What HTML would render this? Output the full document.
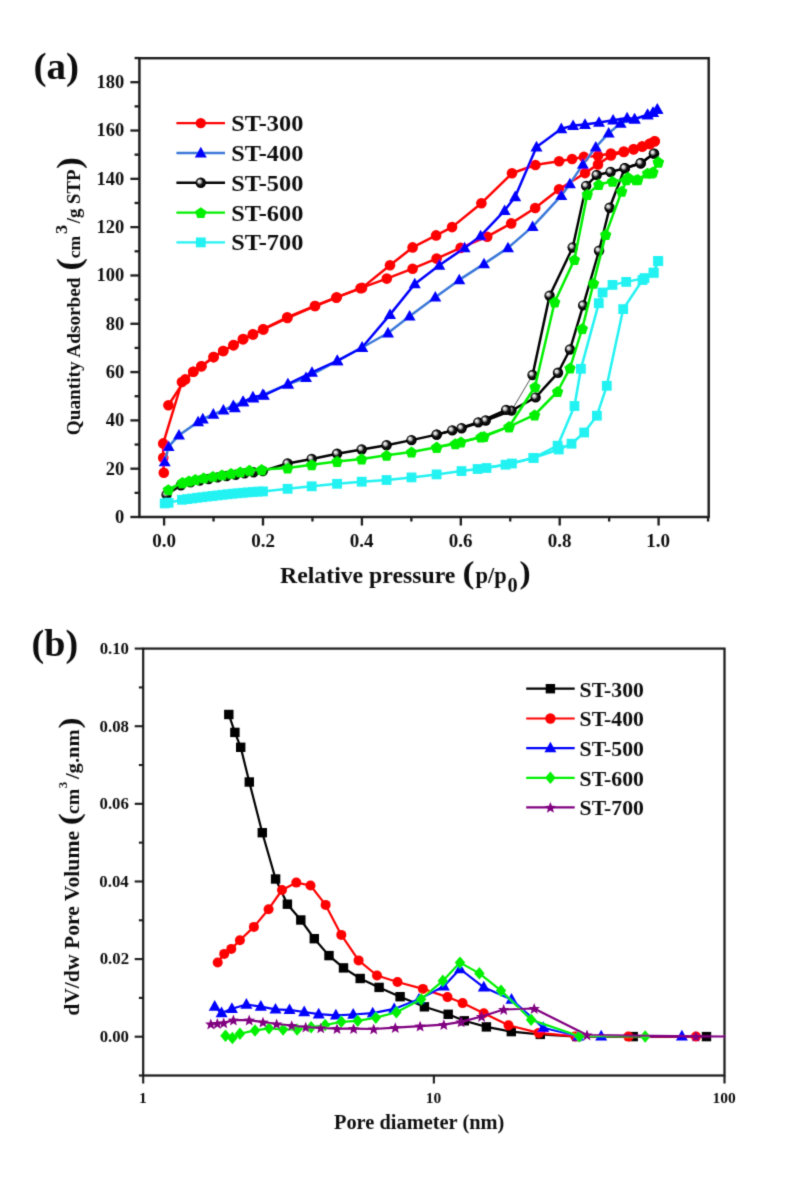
<!DOCTYPE html>
<html><head><meta charset="utf-8"><style>
html,body{margin:0;padding:0;background:#fff;}
svg{display:block;}

</style></head><body>
<svg width="788" height="1181" viewBox="0 0 788 1181" font-family="Liberation Serif" font-weight="bold">
<defs><radialGradient id="bg" cx="0.5" cy="0.5" r="0.5" fx="0.3" fy="0.32"><stop offset="0" stop-color="#ffffff"/><stop offset="0.28" stop-color="#c8c8c8"/><stop offset="0.55" stop-color="#111"/><stop offset="1" stop-color="#000"/></radialGradient><filter id="sb" filterUnits="userSpaceOnUse" x="0" y="0" width="788" height="1181"><feConvolveMatrix order="3" kernelMatrix="0.01917 0.10012 0.01917 0.10012 0.52283 0.10012 0.01917 0.10012 0.01917" edgeMode="duplicate" preserveAlpha="false"/></filter></defs>
<rect width="788" height="1181" fill="#fff"/>
<g filter="url(#sb)">
<rect x="139.4" y="58.2" width="569.3" height="458.8" fill="none" stroke="#1a1a1a" stroke-width="2.4"/>
<line x1="130.4" y1="517.00" x2="139.4" y2="517.00" stroke="#1a1a1a" stroke-width="2.3"/>
<text x="115.05" y="522.90" font-size="18.5" fill="#111">0</text>
<line x1="134.6" y1="492.85" x2="139.4" y2="492.85" stroke="#1a1a1a" stroke-width="2.3"/>
<line x1="130.4" y1="468.69" x2="139.4" y2="468.69" stroke="#1a1a1a" stroke-width="2.3"/>
<text x="105.80" y="474.59" font-size="18.5" fill="#111">20</text>
<line x1="134.6" y1="444.53" x2="139.4" y2="444.53" stroke="#1a1a1a" stroke-width="2.3"/>
<line x1="130.4" y1="420.38" x2="139.4" y2="420.38" stroke="#1a1a1a" stroke-width="2.3"/>
<text x="105.80" y="426.28" font-size="18.5" fill="#111">40</text>
<line x1="134.6" y1="396.23" x2="139.4" y2="396.23" stroke="#1a1a1a" stroke-width="2.3"/>
<line x1="130.4" y1="372.07" x2="139.4" y2="372.07" stroke="#1a1a1a" stroke-width="2.3"/>
<text x="105.80" y="377.97" font-size="18.5" fill="#111">60</text>
<line x1="134.6" y1="347.91" x2="139.4" y2="347.91" stroke="#1a1a1a" stroke-width="2.3"/>
<line x1="130.4" y1="323.76" x2="139.4" y2="323.76" stroke="#1a1a1a" stroke-width="2.3"/>
<text x="105.80" y="329.66" font-size="18.5" fill="#111">80</text>
<line x1="134.6" y1="299.61" x2="139.4" y2="299.61" stroke="#1a1a1a" stroke-width="2.3"/>
<line x1="130.4" y1="275.45" x2="139.4" y2="275.45" stroke="#1a1a1a" stroke-width="2.3"/>
<text x="96.55" y="281.35" font-size="18.5" fill="#111">100</text>
<line x1="134.6" y1="251.29" x2="139.4" y2="251.29" stroke="#1a1a1a" stroke-width="2.3"/>
<line x1="130.4" y1="227.14" x2="139.4" y2="227.14" stroke="#1a1a1a" stroke-width="2.3"/>
<text x="96.55" y="233.04" font-size="18.5" fill="#111">120</text>
<line x1="134.6" y1="202.98" x2="139.4" y2="202.98" stroke="#1a1a1a" stroke-width="2.3"/>
<line x1="130.4" y1="178.83" x2="139.4" y2="178.83" stroke="#1a1a1a" stroke-width="2.3"/>
<text x="96.55" y="184.73" font-size="18.5" fill="#111">140</text>
<line x1="134.6" y1="154.67" x2="139.4" y2="154.67" stroke="#1a1a1a" stroke-width="2.3"/>
<line x1="130.4" y1="130.52" x2="139.4" y2="130.52" stroke="#1a1a1a" stroke-width="2.3"/>
<text x="96.55" y="136.42" font-size="18.5" fill="#111">160</text>
<line x1="134.6" y1="106.36" x2="139.4" y2="106.36" stroke="#1a1a1a" stroke-width="2.3"/>
<line x1="130.4" y1="82.21" x2="139.4" y2="82.21" stroke="#1a1a1a" stroke-width="2.3"/>
<text x="96.55" y="88.11" font-size="18.5" fill="#111">180</text>
<line x1="134.6" y1="58.05" x2="139.4" y2="58.05" stroke="#1a1a1a" stroke-width="2.3"/>
<line x1="164.10" y1="517.0" x2="164.10" y2="525.5" stroke="#1a1a1a" stroke-width="2.3"/>
<text x="152.22" y="546.70" font-size="19" fill="#111">0.0</text>
<line x1="213.55" y1="517.0" x2="213.55" y2="521.5" stroke="#1a1a1a" stroke-width="2.3"/>
<line x1="263.00" y1="517.0" x2="263.00" y2="525.5" stroke="#1a1a1a" stroke-width="2.3"/>
<text x="251.17" y="546.70" font-size="19" fill="#111">0.2</text>
<line x1="312.45" y1="517.0" x2="312.45" y2="521.5" stroke="#1a1a1a" stroke-width="2.3"/>
<line x1="361.90" y1="517.0" x2="361.90" y2="525.5" stroke="#1a1a1a" stroke-width="2.3"/>
<text x="349.84" y="546.70" font-size="19" fill="#111">0.4</text>
<line x1="411.35" y1="517.0" x2="411.35" y2="521.5" stroke="#1a1a1a" stroke-width="2.3"/>
<line x1="460.80" y1="517.0" x2="460.80" y2="525.5" stroke="#1a1a1a" stroke-width="2.3"/>
<text x="448.84" y="546.70" font-size="19" fill="#111">0.6</text>
<line x1="510.25" y1="517.0" x2="510.25" y2="521.5" stroke="#1a1a1a" stroke-width="2.3"/>
<line x1="559.70" y1="517.0" x2="559.70" y2="525.5" stroke="#1a1a1a" stroke-width="2.3"/>
<text x="547.78" y="546.70" font-size="19" fill="#111">0.8</text>
<line x1="609.15" y1="517.0" x2="609.15" y2="521.5" stroke="#1a1a1a" stroke-width="2.3"/>
<line x1="658.60" y1="517.0" x2="658.60" y2="525.5" stroke="#1a1a1a" stroke-width="2.3"/>
<text x="646.33" y="546.70" font-size="19" fill="#111">1.0</text>
<line x1="708.05" y1="517.0" x2="708.05" y2="521.5" stroke="#1a1a1a" stroke-width="2.3"/>
<g>
<polyline points="163.8,472.7 163.2,457.7 163.2,443.4 181.9,382.0 193.3,371.8 201.4,366.2 213.6,357.1 223.2,351.0 233.4,345.2 242.8,339.3 253.0,334.5 263.1,329.2 287.2,317.3 315.0,306.0 336.3,297.7 360.5,288.2 386.8,278.6 412.6,268.7 436.6,258.6 460.6,247.9 487.2,236.7 511.2,223.4 535.2,208.0 559.1,189.2 585.0,173.1 598.0,164.4 610.9,155.5 623.8,152.0 633.6,149.3 642.2,146.5 649.7,143.9 654.7,141.3" fill="none" stroke="#ff0000" stroke-width="2.5" stroke-linejoin="round" stroke-linecap="round"/>
<polyline points="654.7,141.3 649.7,143.9 642.2,146.5 633.6,149.3 623.8,151.5 610.9,153.6 598.0,155.8 583.9,156.9 572.1,159.0 559.1,161.2 535.4,165.0 512.0,173.3 481.4,203.2 452.1,227.1 436.1,235.4 412.6,247.4 390.0,265.3 362.0,287.9 336.7,297.2 315.0,306.0 287.4,318.0 263.3,329.4 252.9,334.3 243.3,339.1 233.6,345.1 223.2,351.0 213.6,357.1 201.4,366.2 193.3,371.8 185.2,379.4 168.4,405.3" fill="none" stroke="#ff0000" stroke-width="2.5" stroke-linejoin="round" stroke-linecap="round"/>
<circle cx="163.8" cy="472.7" r="5.3" fill="#ff0000"/>
<circle cx="163.2" cy="457.7" r="5.3" fill="#ff0000"/>
<circle cx="163.2" cy="443.4" r="5.3" fill="#ff0000"/>
<circle cx="181.9" cy="382.0" r="5.3" fill="#ff0000"/>
<circle cx="193.3" cy="371.8" r="5.3" fill="#ff0000"/>
<circle cx="201.4" cy="366.2" r="5.3" fill="#ff0000"/>
<circle cx="213.6" cy="357.1" r="5.3" fill="#ff0000"/>
<circle cx="223.2" cy="351.0" r="5.3" fill="#ff0000"/>
<circle cx="233.4" cy="345.2" r="5.3" fill="#ff0000"/>
<circle cx="242.8" cy="339.3" r="5.3" fill="#ff0000"/>
<circle cx="253.0" cy="334.5" r="5.3" fill="#ff0000"/>
<circle cx="263.1" cy="329.2" r="5.3" fill="#ff0000"/>
<circle cx="287.2" cy="317.3" r="5.3" fill="#ff0000"/>
<circle cx="315.0" cy="306.0" r="5.3" fill="#ff0000"/>
<circle cx="336.3" cy="297.7" r="5.3" fill="#ff0000"/>
<circle cx="360.5" cy="288.2" r="5.3" fill="#ff0000"/>
<circle cx="386.8" cy="278.6" r="5.3" fill="#ff0000"/>
<circle cx="412.6" cy="268.7" r="5.3" fill="#ff0000"/>
<circle cx="436.6" cy="258.6" r="5.3" fill="#ff0000"/>
<circle cx="460.6" cy="247.9" r="5.3" fill="#ff0000"/>
<circle cx="487.2" cy="236.7" r="5.3" fill="#ff0000"/>
<circle cx="511.2" cy="223.4" r="5.3" fill="#ff0000"/>
<circle cx="535.2" cy="208.0" r="5.3" fill="#ff0000"/>
<circle cx="559.1" cy="189.2" r="5.3" fill="#ff0000"/>
<circle cx="585.0" cy="173.1" r="5.3" fill="#ff0000"/>
<circle cx="598.0" cy="164.4" r="5.3" fill="#ff0000"/>
<circle cx="610.9" cy="155.5" r="5.3" fill="#ff0000"/>
<circle cx="623.8" cy="152.0" r="5.3" fill="#ff0000"/>
<circle cx="633.6" cy="149.3" r="5.3" fill="#ff0000"/>
<circle cx="642.2" cy="146.5" r="5.3" fill="#ff0000"/>
<circle cx="649.7" cy="143.9" r="5.3" fill="#ff0000"/>
<circle cx="654.7" cy="141.3" r="5.3" fill="#ff0000"/>
<circle cx="654.7" cy="141.3" r="5.3" fill="#ff0000"/>
<circle cx="649.7" cy="143.9" r="5.3" fill="#ff0000"/>
<circle cx="642.2" cy="146.5" r="5.3" fill="#ff0000"/>
<circle cx="633.6" cy="149.3" r="5.3" fill="#ff0000"/>
<circle cx="623.8" cy="151.5" r="5.3" fill="#ff0000"/>
<circle cx="610.9" cy="153.6" r="5.3" fill="#ff0000"/>
<circle cx="598.0" cy="155.8" r="5.3" fill="#ff0000"/>
<circle cx="583.9" cy="156.9" r="5.3" fill="#ff0000"/>
<circle cx="572.1" cy="159.0" r="5.3" fill="#ff0000"/>
<circle cx="559.1" cy="161.2" r="5.3" fill="#ff0000"/>
<circle cx="535.4" cy="165.0" r="5.3" fill="#ff0000"/>
<circle cx="512.0" cy="173.3" r="5.3" fill="#ff0000"/>
<circle cx="481.4" cy="203.2" r="5.3" fill="#ff0000"/>
<circle cx="452.1" cy="227.1" r="5.3" fill="#ff0000"/>
<circle cx="436.1" cy="235.4" r="5.3" fill="#ff0000"/>
<circle cx="412.6" cy="247.4" r="5.3" fill="#ff0000"/>
<circle cx="390.0" cy="265.3" r="5.3" fill="#ff0000"/>
<circle cx="362.0" cy="287.9" r="5.3" fill="#ff0000"/>
<circle cx="336.7" cy="297.2" r="5.3" fill="#ff0000"/>
<circle cx="315.0" cy="306.0" r="5.3" fill="#ff0000"/>
<circle cx="287.4" cy="318.0" r="5.3" fill="#ff0000"/>
<circle cx="263.3" cy="329.4" r="5.3" fill="#ff0000"/>
<circle cx="252.9" cy="334.3" r="5.3" fill="#ff0000"/>
<circle cx="243.3" cy="339.1" r="5.3" fill="#ff0000"/>
<circle cx="233.6" cy="345.1" r="5.3" fill="#ff0000"/>
<circle cx="223.2" cy="351.0" r="5.3" fill="#ff0000"/>
<circle cx="213.6" cy="357.1" r="5.3" fill="#ff0000"/>
<circle cx="201.4" cy="366.2" r="5.3" fill="#ff0000"/>
<circle cx="193.3" cy="371.8" r="5.3" fill="#ff0000"/>
<circle cx="185.2" cy="379.4" r="5.3" fill="#ff0000"/>
<circle cx="168.4" cy="405.3" r="5.3" fill="#ff0000"/>
<polyline points="164.7,461.9 168.6,446.6 179.0,435.2 198.1,421.9 202.8,419.0 213.3,414.3 223.4,410.1 233.3,405.7 242.8,401.9 253.3,398.1 262.8,394.8 287.9,384.2 306.0,377.7 337.3,360.8 362.1,347.5 388.0,333.0 409.6,316.2 435.3,297.2 459.3,279.9 484.0,263.9 508.0,247.9 532.6,226.6 561.3,195.7 569.9,183.9 582.9,164.4 595.8,147.2 608.7,133.2 620.6,123.4 634.6,119.1 647.6,114.8 653.0,112.7 657.3,109.4" fill="none" stroke="#3a78d8" stroke-width="2.5" stroke-linejoin="round" stroke-linecap="round"/>
<polyline points="657.3,109.4 653.0,112.7 647.6,114.8 634.6,119.1 627.1,118.0 613.1,120.2 599.0,122.4 585.0,124.5 573.1,125.6 561.3,128.8 536.5,147.0 515.2,196.8 504.6,210.6 480.6,235.9 464.6,247.9 439.3,265.3 414.8,283.9 390.0,314.6 362.1,347.5 337.3,360.8 312.0,372.4 287.9,384.2 263.8,395.3 252.9,397.0 243.3,401.8 234.8,407.8" fill="none" stroke="#0000ff" stroke-width="2.5" stroke-linejoin="round" stroke-linecap="round"/>
<path d="M164.7,455.7L170.7,466.3L158.7,466.3Z" fill="#0000ff"/>
<path d="M168.6,440.4L174.6,451.0L162.6,451.0Z" fill="#0000ff"/>
<path d="M179.0,429.0L185.0,439.6L173.0,439.6Z" fill="#0000ff"/>
<path d="M198.1,415.7L204.1,426.3L192.1,426.3Z" fill="#0000ff"/>
<path d="M202.8,412.8L208.8,423.4L196.8,423.4Z" fill="#0000ff"/>
<path d="M213.3,408.1L219.3,418.7L207.3,418.7Z" fill="#0000ff"/>
<path d="M223.4,403.9L229.4,414.5L217.4,414.5Z" fill="#0000ff"/>
<path d="M233.3,399.5L239.3,410.1L227.3,410.1Z" fill="#0000ff"/>
<path d="M242.8,395.7L248.8,406.3L236.8,406.3Z" fill="#0000ff"/>
<path d="M253.3,391.9L259.3,402.5L247.3,402.5Z" fill="#0000ff"/>
<path d="M262.8,388.6L268.8,399.2L256.8,399.2Z" fill="#0000ff"/>
<path d="M287.9,378.0L293.9,388.6L281.9,388.6Z" fill="#0000ff"/>
<path d="M306.0,371.5L312.0,382.1L300.0,382.1Z" fill="#0000ff"/>
<path d="M337.3,354.6L343.3,365.2L331.3,365.2Z" fill="#0000ff"/>
<path d="M362.1,341.3L368.1,351.9L356.1,351.9Z" fill="#0000ff"/>
<path d="M388.0,326.8L394.0,337.4L382.0,337.4Z" fill="#0000ff"/>
<path d="M409.6,310.0L415.6,320.6L403.6,320.6Z" fill="#0000ff"/>
<path d="M435.3,291.0L441.3,301.6L429.3,301.6Z" fill="#0000ff"/>
<path d="M459.3,273.7L465.3,284.3L453.3,284.3Z" fill="#0000ff"/>
<path d="M484.0,257.7L490.0,268.3L478.0,268.3Z" fill="#0000ff"/>
<path d="M508.0,241.7L514.0,252.3L502.0,252.3Z" fill="#0000ff"/>
<path d="M532.6,220.4L538.6,231.0L526.6,231.0Z" fill="#0000ff"/>
<path d="M561.3,189.5L567.3,200.1L555.3,200.1Z" fill="#0000ff"/>
<path d="M569.9,177.7L575.9,188.3L563.9,188.3Z" fill="#0000ff"/>
<path d="M582.9,158.2L588.9,168.8L576.9,168.8Z" fill="#0000ff"/>
<path d="M595.8,141.0L601.8,151.6L589.8,151.6Z" fill="#0000ff"/>
<path d="M608.7,127.0L614.7,137.6L602.7,137.6Z" fill="#0000ff"/>
<path d="M620.6,117.2L626.6,127.8L614.6,127.8Z" fill="#0000ff"/>
<path d="M634.6,112.9L640.6,123.5L628.6,123.5Z" fill="#0000ff"/>
<path d="M647.6,108.6L653.6,119.2L641.6,119.2Z" fill="#0000ff"/>
<path d="M653.0,106.5L659.0,117.1L647.0,117.1Z" fill="#0000ff"/>
<path d="M657.3,103.2L663.3,113.8L651.3,113.8Z" fill="#0000ff"/>
<path d="M657.3,103.2L663.3,113.8L651.3,113.8Z" fill="#0000ff"/>
<path d="M653.0,106.5L659.0,117.1L647.0,117.1Z" fill="#0000ff"/>
<path d="M647.6,108.6L653.6,119.2L641.6,119.2Z" fill="#0000ff"/>
<path d="M634.6,112.9L640.6,123.5L628.6,123.5Z" fill="#0000ff"/>
<path d="M627.1,111.8L633.1,122.4L621.1,122.4Z" fill="#0000ff"/>
<path d="M613.1,114.0L619.1,124.6L607.1,124.6Z" fill="#0000ff"/>
<path d="M599.0,116.2L605.0,126.8L593.0,126.8Z" fill="#0000ff"/>
<path d="M585.0,118.3L591.0,128.9L579.0,128.9Z" fill="#0000ff"/>
<path d="M573.1,119.4L579.1,130.0L567.1,130.0Z" fill="#0000ff"/>
<path d="M561.3,122.6L567.3,133.2L555.3,133.2Z" fill="#0000ff"/>
<path d="M536.5,140.8L542.5,151.4L530.5,151.4Z" fill="#0000ff"/>
<path d="M515.2,190.6L521.2,201.2L509.2,201.2Z" fill="#0000ff"/>
<path d="M504.6,204.4L510.6,215.0L498.6,215.0Z" fill="#0000ff"/>
<path d="M480.6,229.7L486.6,240.3L474.6,240.3Z" fill="#0000ff"/>
<path d="M464.6,241.7L470.6,252.3L458.6,252.3Z" fill="#0000ff"/>
<path d="M439.3,259.1L445.3,269.7L433.3,269.7Z" fill="#0000ff"/>
<path d="M414.8,277.7L420.8,288.3L408.8,288.3Z" fill="#0000ff"/>
<path d="M390.0,308.4L396.0,319.0L384.0,319.0Z" fill="#0000ff"/>
<path d="M362.1,341.3L368.1,351.9L356.1,351.9Z" fill="#0000ff"/>
<path d="M337.3,354.6L343.3,365.2L331.3,365.2Z" fill="#0000ff"/>
<path d="M312.0,366.2L318.0,376.8L306.0,376.8Z" fill="#0000ff"/>
<path d="M287.9,378.0L293.9,388.6L281.9,388.6Z" fill="#0000ff"/>
<path d="M263.8,389.1L269.8,399.7L257.8,399.7Z" fill="#0000ff"/>
<path d="M252.9,390.8L258.9,401.4L246.9,401.4Z" fill="#0000ff"/>
<path d="M243.3,395.6L249.3,406.2L237.3,406.2Z" fill="#0000ff"/>
<path d="M234.8,401.6L240.8,412.2L228.8,412.2Z" fill="#0000ff"/>
<polyline points="166.6,494.8 180.9,485.3 190.5,482.3 199.5,480.6 208.5,479.0 217.5,477.4 226.5,476.0 235.5,474.7 244.5,473.4 253.5,472.3 262.8,471.0 287.6,463.5 311.7,458.9 337.1,453.8 361.7,449.5 386.6,445.2 411.5,440.1 436.7,434.6 461.6,428.2 485.7,420.5 511.5,410.6 535.6,397.4 558.0,372.8 570.0,349.5 583.2,305.4 599.1,250.8 609.6,207.8 624.8,168.3 640.7,163.2 654.0,153.6" fill="none" stroke="#000000" stroke-width="2.5" stroke-linejoin="round" stroke-linecap="round"/>
<polyline points="654.0,153.6 640.7,163.2 624.8,168.3 610.6,172.0 596.7,175.0 586.2,185.9 572.7,247.5 549.6,295.7 532.6,375.0" fill="none" stroke="#000000" stroke-width="2.5" stroke-linejoin="round" stroke-linecap="round"/>
<polyline points="506.2,409.9 478.3,422.4 452.3,430.4 436.7,434.6" fill="none" stroke="#000000" stroke-width="2.5" stroke-linejoin="round" stroke-linecap="round"/>
<polyline points="532.6,375.0 511.5,410.6" fill="none" stroke="#555" stroke-width="1.0" stroke-linejoin="round" stroke-linecap="round"/>
<circle cx="166.6" cy="494.8" r="5.2" fill="url(#bg)"/>
<circle cx="180.9" cy="485.3" r="5.2" fill="url(#bg)"/>
<circle cx="190.5" cy="482.3" r="5.2" fill="url(#bg)"/>
<circle cx="199.5" cy="480.6" r="5.2" fill="url(#bg)"/>
<circle cx="208.5" cy="479.0" r="5.2" fill="url(#bg)"/>
<circle cx="217.5" cy="477.4" r="5.2" fill="url(#bg)"/>
<circle cx="226.5" cy="476.0" r="5.2" fill="url(#bg)"/>
<circle cx="235.5" cy="474.7" r="5.2" fill="url(#bg)"/>
<circle cx="244.5" cy="473.4" r="5.2" fill="url(#bg)"/>
<circle cx="253.5" cy="472.3" r="5.2" fill="url(#bg)"/>
<circle cx="262.8" cy="471.0" r="5.2" fill="url(#bg)"/>
<circle cx="287.6" cy="463.5" r="5.2" fill="url(#bg)"/>
<circle cx="311.7" cy="458.9" r="5.2" fill="url(#bg)"/>
<circle cx="337.1" cy="453.8" r="5.2" fill="url(#bg)"/>
<circle cx="361.7" cy="449.5" r="5.2" fill="url(#bg)"/>
<circle cx="386.6" cy="445.2" r="5.2" fill="url(#bg)"/>
<circle cx="411.5" cy="440.1" r="5.2" fill="url(#bg)"/>
<circle cx="436.7" cy="434.6" r="5.2" fill="url(#bg)"/>
<circle cx="461.6" cy="428.2" r="5.2" fill="url(#bg)"/>
<circle cx="485.7" cy="420.5" r="5.2" fill="url(#bg)"/>
<circle cx="511.5" cy="410.6" r="5.2" fill="url(#bg)"/>
<circle cx="535.6" cy="397.4" r="5.2" fill="url(#bg)"/>
<circle cx="558.0" cy="372.8" r="5.2" fill="url(#bg)"/>
<circle cx="570.0" cy="349.5" r="5.2" fill="url(#bg)"/>
<circle cx="583.2" cy="305.4" r="5.2" fill="url(#bg)"/>
<circle cx="599.1" cy="250.8" r="5.2" fill="url(#bg)"/>
<circle cx="609.6" cy="207.8" r="5.2" fill="url(#bg)"/>
<circle cx="624.8" cy="168.3" r="5.2" fill="url(#bg)"/>
<circle cx="640.7" cy="163.2" r="5.2" fill="url(#bg)"/>
<circle cx="654.0" cy="153.6" r="5.2" fill="url(#bg)"/>
<circle cx="654.0" cy="153.6" r="5.2" fill="url(#bg)"/>
<circle cx="640.7" cy="163.2" r="5.2" fill="url(#bg)"/>
<circle cx="624.8" cy="168.3" r="5.2" fill="url(#bg)"/>
<circle cx="610.6" cy="172.0" r="5.2" fill="url(#bg)"/>
<circle cx="596.7" cy="175.0" r="5.2" fill="url(#bg)"/>
<circle cx="586.2" cy="185.9" r="5.2" fill="url(#bg)"/>
<circle cx="572.7" cy="247.5" r="5.2" fill="url(#bg)"/>
<circle cx="549.6" cy="295.7" r="5.2" fill="url(#bg)"/>
<circle cx="532.6" cy="375.0" r="5.2" fill="url(#bg)"/>
<circle cx="506.2" cy="409.9" r="5.2" fill="url(#bg)"/>
<circle cx="478.3" cy="422.4" r="5.2" fill="url(#bg)"/>
<circle cx="452.3" cy="430.4" r="5.2" fill="url(#bg)"/>
<circle cx="436.7" cy="434.6" r="5.2" fill="url(#bg)"/>
<polyline points="168.3,489.6 182.4,482.4 188.9,480.9 195.4,479.4 203.7,477.8 212.9,476.3 222.0,474.8 231.1,473.3 240.3,471.8 249.4,470.2 261.6,469.5 287.6,468.0 311.7,464.7 337.1,461.4 361.7,458.9 386.6,455.3 411.5,452.0 436.7,447.2 460.9,441.9 484.0,436.5 509.1,426.7 534.6,414.9 557.6,391.5 570.0,368.0 582.3,328.5 593.5,283.2 605.7,234.6 621.7,191.2 628.2,177.4 637.9,179.5 647.6,173.1 653.0,172.0 658.3,162.0" fill="none" stroke="#00f000" stroke-width="2.5" stroke-linejoin="round" stroke-linecap="round"/>
<polyline points="658.3,162.0 651.4,172.9 636.1,179.8 626.2,179.8 612.5,181.3 598.8,184.5 587.3,194.4 574.4,259.6 554.7,302.0 535.0,386.8 509.1,426.7 481.0,437.0 455.3,443.7 436.7,447.2" fill="none" stroke="#00f000" stroke-width="2.5" stroke-linejoin="round" stroke-linecap="round"/>
<polygon points="168.3,484.2 174.0,488.3 171.8,495.1 164.8,495.1 162.6,488.3" fill="#00f000"/>
<polygon points="182.4,477.0 188.1,481.1 185.9,487.9 178.9,487.9 176.7,481.1" fill="#00f000"/>
<polygon points="188.9,475.5 194.6,479.6 192.4,486.4 185.4,486.4 183.2,479.6" fill="#00f000"/>
<polygon points="195.4,474.0 201.1,478.1 198.9,484.9 191.9,484.9 189.7,478.1" fill="#00f000"/>
<polygon points="203.7,472.4 209.4,476.5 207.2,483.3 200.2,483.3 198.0,476.5" fill="#00f000"/>
<polygon points="212.9,470.9 218.6,475.0 216.4,481.8 209.4,481.8 207.2,475.0" fill="#00f000"/>
<polygon points="222.0,469.4 227.7,473.5 225.5,480.3 218.5,480.3 216.3,473.5" fill="#00f000"/>
<polygon points="231.1,467.9 236.8,472.0 234.6,478.8 227.6,478.8 225.4,472.0" fill="#00f000"/>
<polygon points="240.3,466.4 246.0,470.5 243.8,477.3 236.8,477.3 234.6,470.5" fill="#00f000"/>
<polygon points="249.4,464.8 255.1,468.9 252.9,475.7 245.9,475.7 243.7,468.9" fill="#00f000"/>
<polygon points="261.6,464.1 267.3,468.2 265.1,475.0 258.1,475.0 255.9,468.2" fill="#00f000"/>
<polygon points="287.6,462.6 293.3,466.7 291.1,473.5 284.1,473.5 281.9,466.7" fill="#00f000"/>
<polygon points="311.7,459.3 317.4,463.4 315.2,470.2 308.2,470.2 306.0,463.4" fill="#00f000"/>
<polygon points="337.1,456.0 342.8,460.1 340.6,466.9 333.6,466.9 331.4,460.1" fill="#00f000"/>
<polygon points="361.7,453.5 367.4,457.6 365.2,464.4 358.2,464.4 356.0,457.6" fill="#00f000"/>
<polygon points="386.6,449.9 392.3,454.0 390.1,460.8 383.1,460.8 380.9,454.0" fill="#00f000"/>
<polygon points="411.5,446.6 417.2,450.7 415.0,457.5 408.0,457.5 405.8,450.7" fill="#00f000"/>
<polygon points="436.7,441.8 442.4,445.9 440.2,452.7 433.2,452.7 431.0,445.9" fill="#00f000"/>
<polygon points="460.9,436.5 466.6,440.6 464.4,447.4 457.4,447.4 455.2,440.6" fill="#00f000"/>
<polygon points="484.0,431.1 489.7,435.2 487.5,442.0 480.5,442.0 478.3,435.2" fill="#00f000"/>
<polygon points="509.1,421.3 514.8,425.4 512.6,432.2 505.6,432.2 503.4,425.4" fill="#00f000"/>
<polygon points="534.6,409.5 540.3,413.6 538.1,420.4 531.1,420.4 528.9,413.6" fill="#00f000"/>
<polygon points="557.6,386.1 563.3,390.2 561.1,397.0 554.1,397.0 551.9,390.2" fill="#00f000"/>
<polygon points="570.0,362.6 575.7,366.7 573.5,373.5 566.5,373.5 564.3,366.7" fill="#00f000"/>
<polygon points="582.3,323.1 588.0,327.2 585.8,334.0 578.8,334.0 576.6,327.2" fill="#00f000"/>
<polygon points="593.5,277.8 599.2,281.9 597.0,288.7 590.0,288.7 587.8,281.9" fill="#00f000"/>
<polygon points="605.7,229.2 611.4,233.3 609.2,240.1 602.2,240.1 600.0,233.3" fill="#00f000"/>
<polygon points="621.7,185.8 627.4,189.9 625.2,196.7 618.2,196.7 616.0,189.9" fill="#00f000"/>
<polygon points="628.2,172.0 633.9,176.1 631.7,182.9 624.7,182.9 622.5,176.1" fill="#00f000"/>
<polygon points="637.9,174.1 643.6,178.2 641.4,185.0 634.4,185.0 632.2,178.2" fill="#00f000"/>
<polygon points="647.6,167.7 653.3,171.8 651.1,178.6 644.1,178.6 641.9,171.8" fill="#00f000"/>
<polygon points="653.0,166.6 658.7,170.7 656.5,177.5 649.5,177.5 647.3,170.7" fill="#00f000"/>
<polygon points="658.3,156.6 664.0,160.7 661.8,167.5 654.8,167.5 652.6,160.7" fill="#00f000"/>
<polygon points="658.3,156.6 664.0,160.7 661.8,167.5 654.8,167.5 652.6,160.7" fill="#00f000"/>
<polygon points="651.4,167.5 657.1,171.6 654.9,178.4 647.9,178.4 645.7,171.6" fill="#00f000"/>
<polygon points="636.1,174.4 641.8,178.5 639.6,185.3 632.6,185.3 630.4,178.5" fill="#00f000"/>
<polygon points="626.2,174.4 631.9,178.5 629.7,185.3 622.7,185.3 620.5,178.5" fill="#00f000"/>
<polygon points="612.5,175.9 618.2,180.0 616.0,186.8 609.0,186.8 606.8,180.0" fill="#00f000"/>
<polygon points="598.8,179.1 604.5,183.2 602.3,190.0 595.3,190.0 593.1,183.2" fill="#00f000"/>
<polygon points="587.3,189.0 593.0,193.1 590.8,199.9 583.8,199.9 581.6,193.1" fill="#00f000"/>
<polygon points="574.4,254.2 580.1,258.3 577.9,265.1 570.9,265.1 568.7,258.3" fill="#00f000"/>
<polygon points="554.7,296.6 560.4,300.7 558.2,307.5 551.2,307.5 549.0,300.7" fill="#00f000"/>
<polygon points="535.0,381.4 540.7,385.5 538.5,392.3 531.5,392.3 529.3,385.5" fill="#00f000"/>
<polygon points="509.1,421.3 514.8,425.4 512.6,432.2 505.6,432.2 503.4,425.4" fill="#00f000"/>
<polygon points="481.0,431.6 486.7,435.7 484.5,442.5 477.5,442.5 475.3,435.7" fill="#00f000"/>
<polygon points="455.3,438.3 461.0,442.4 458.8,449.2 451.8,449.2 449.6,442.4" fill="#00f000"/>
<polygon points="436.7,441.8 442.4,445.9 440.2,452.7 433.2,452.7 431.0,445.9" fill="#00f000"/>
<polyline points="164.7,503.4 168.6,502.8 182.0,499.8 187.1,499.1 192.1,498.5 197.2,497.8 202.2,497.2 207.3,496.6 212.4,496.0 217.4,495.4 222.5,494.8 227.6,494.3 232.6,493.7 237.7,493.3 242.8,492.8 247.8,492.4 252.9,492.0 257.9,491.6 263.0,491.4 287.6,488.8 311.7,486.3 337.1,483.8 361.7,481.7 386.6,480.0 411.5,477.4 436.6,474.4 461.5,471.1 486.5,468.0 511.9,463.5 533.5,457.9 558.8,449.5 571.5,443.7 584.2,432.5 596.9,415.7 606.8,385.8 623.2,309.1 642.5,280.0 653.6,272.7 658.2,261.0" fill="none" stroke="#22f2f2" stroke-width="2.5" stroke-linejoin="round" stroke-linecap="round"/>
<polyline points="658.2,261.0 653.6,272.7 644.5,278.1 626.2,281.9 612.5,284.9 602.6,292.5 598.8,303.2 580.9,368.8 574.5,406.0 557.6,445.7 533.5,457.9 505.5,464.7 477.6,469.0" fill="none" stroke="#22f2f2" stroke-width="2.5" stroke-linejoin="round" stroke-linecap="round"/>
<rect x="159.8" y="498.5" width="9.8" height="9.8" fill="#22f2f2"/>
<rect x="163.7" y="497.9" width="9.8" height="9.8" fill="#22f2f2"/>
<rect x="177.1" y="494.9" width="9.8" height="9.8" fill="#22f2f2"/>
<rect x="182.2" y="494.2" width="9.8" height="9.8" fill="#22f2f2"/>
<rect x="187.2" y="493.6" width="9.8" height="9.8" fill="#22f2f2"/>
<rect x="192.3" y="492.9" width="9.8" height="9.8" fill="#22f2f2"/>
<rect x="197.3" y="492.3" width="9.8" height="9.8" fill="#22f2f2"/>
<rect x="202.4" y="491.7" width="9.8" height="9.8" fill="#22f2f2"/>
<rect x="207.5" y="491.1" width="9.8" height="9.8" fill="#22f2f2"/>
<rect x="212.5" y="490.5" width="9.8" height="9.8" fill="#22f2f2"/>
<rect x="217.6" y="489.9" width="9.8" height="9.8" fill="#22f2f2"/>
<rect x="222.7" y="489.4" width="9.8" height="9.8" fill="#22f2f2"/>
<rect x="227.7" y="488.8" width="9.8" height="9.8" fill="#22f2f2"/>
<rect x="232.8" y="488.4" width="9.8" height="9.8" fill="#22f2f2"/>
<rect x="237.8" y="487.9" width="9.8" height="9.8" fill="#22f2f2"/>
<rect x="242.9" y="487.5" width="9.8" height="9.8" fill="#22f2f2"/>
<rect x="248.0" y="487.1" width="9.8" height="9.8" fill="#22f2f2"/>
<rect x="253.0" y="486.7" width="9.8" height="9.8" fill="#22f2f2"/>
<rect x="258.1" y="486.5" width="9.8" height="9.8" fill="#22f2f2"/>
<rect x="282.7" y="483.9" width="9.8" height="9.8" fill="#22f2f2"/>
<rect x="306.8" y="481.4" width="9.8" height="9.8" fill="#22f2f2"/>
<rect x="332.2" y="478.9" width="9.8" height="9.8" fill="#22f2f2"/>
<rect x="356.8" y="476.8" width="9.8" height="9.8" fill="#22f2f2"/>
<rect x="381.7" y="475.1" width="9.8" height="9.8" fill="#22f2f2"/>
<rect x="406.6" y="472.5" width="9.8" height="9.8" fill="#22f2f2"/>
<rect x="431.7" y="469.5" width="9.8" height="9.8" fill="#22f2f2"/>
<rect x="456.6" y="466.2" width="9.8" height="9.8" fill="#22f2f2"/>
<rect x="481.6" y="463.1" width="9.8" height="9.8" fill="#22f2f2"/>
<rect x="507.0" y="458.6" width="9.8" height="9.8" fill="#22f2f2"/>
<rect x="528.6" y="453.0" width="9.8" height="9.8" fill="#22f2f2"/>
<rect x="553.9" y="444.6" width="9.8" height="9.8" fill="#22f2f2"/>
<rect x="566.6" y="438.8" width="9.8" height="9.8" fill="#22f2f2"/>
<rect x="579.3" y="427.6" width="9.8" height="9.8" fill="#22f2f2"/>
<rect x="592.0" y="410.8" width="9.8" height="9.8" fill="#22f2f2"/>
<rect x="601.9" y="380.9" width="9.8" height="9.8" fill="#22f2f2"/>
<rect x="618.3" y="304.2" width="9.8" height="9.8" fill="#22f2f2"/>
<rect x="637.6" y="275.1" width="9.8" height="9.8" fill="#22f2f2"/>
<rect x="648.7" y="267.8" width="9.8" height="9.8" fill="#22f2f2"/>
<rect x="653.3" y="256.1" width="9.8" height="9.8" fill="#22f2f2"/>
<rect x="653.3" y="256.1" width="9.8" height="9.8" fill="#22f2f2"/>
<rect x="648.7" y="267.8" width="9.8" height="9.8" fill="#22f2f2"/>
<rect x="639.6" y="273.2" width="9.8" height="9.8" fill="#22f2f2"/>
<rect x="621.3" y="277.0" width="9.8" height="9.8" fill="#22f2f2"/>
<rect x="607.6" y="280.0" width="9.8" height="9.8" fill="#22f2f2"/>
<rect x="597.7" y="287.6" width="9.8" height="9.8" fill="#22f2f2"/>
<rect x="593.9" y="298.3" width="9.8" height="9.8" fill="#22f2f2"/>
<rect x="576.0" y="363.9" width="9.8" height="9.8" fill="#22f2f2"/>
<rect x="569.6" y="401.1" width="9.8" height="9.8" fill="#22f2f2"/>
<rect x="552.7" y="440.8" width="9.8" height="9.8" fill="#22f2f2"/>
<rect x="528.6" y="453.0" width="9.8" height="9.8" fill="#22f2f2"/>
<rect x="500.6" y="459.8" width="9.8" height="9.8" fill="#22f2f2"/>
<rect x="472.7" y="464.1" width="9.8" height="9.8" fill="#22f2f2"/>
</g>
<line x1="176.4" y1="123.1" x2="225" y2="123.1" stroke="#ff0000" stroke-width="2.4"/>
<circle cx="200.8" cy="123.1" r="5.2" fill="#ff0000"/>
<text x="231.25" y="131.10" font-size="23.3" textLength="72.05" lengthAdjust="spacingAndGlyphs" fill="#111">ST-300</text>
<line x1="176.4" y1="153.0" x2="225" y2="153.0" stroke="#3a78d8" stroke-width="2.4"/>
<path d="M200.8,146.8L206.8,157.4L194.8,157.4Z" fill="#0000ff"/>
<text x="231.25" y="161.00" font-size="23.3" textLength="72.05" lengthAdjust="spacingAndGlyphs" fill="#111">ST-400</text>
<line x1="176.4" y1="182.8" x2="225" y2="182.8" stroke="#000000" stroke-width="2.4"/>
<circle cx="200.8" cy="182.8" r="5.2" fill="url(#bg)"/>
<text x="231.25" y="190.80" font-size="23.3" textLength="72.05" lengthAdjust="spacingAndGlyphs" fill="#111">ST-500</text>
<line x1="176.4" y1="212.6" x2="225" y2="212.6" stroke="#00f000" stroke-width="2.4"/>
<polygon points="200.8,207.2 206.5,211.3 204.3,218.1 197.3,218.1 195.1,211.3" fill="#00f000"/>
<text x="231.25" y="220.60" font-size="23.3" textLength="72.05" lengthAdjust="spacingAndGlyphs" fill="#111">ST-600</text>
<line x1="176.4" y1="242.4" x2="225" y2="242.4" stroke="#22f2f2" stroke-width="2.4"/>
<rect x="195.9" y="237.5" width="9.8" height="9.8" fill="#22f2f2"/>
<text x="231.25" y="250.40" font-size="23.3" textLength="72.05" lengthAdjust="spacingAndGlyphs" fill="#111">ST-700</text>
<text x="33.48" y="78.80" font-size="38" textLength="45.64" lengthAdjust="spacingAndGlyphs" fill="#111">(a)</text>
<text x="280.00" y="583.00" font-size="23.3" textLength="175.42" lengthAdjust="spacingAndGlyphs" fill="#111">Relative pressure</text>
<text x="462.53" y="583.00" font-size="32.6" textLength="11.93" lengthAdjust="spacingAndGlyphs" fill="#111">(</text>
<text x="475.52" y="583.00" font-size="23" textLength="31.19" lengthAdjust="spacingAndGlyphs" fill="#111">p/p</text>
<text x="507.53" y="592.40" font-size="20.5" textLength="10.15" lengthAdjust="spacingAndGlyphs" fill="#111">0</text>
<text x="519.42" y="583.00" font-size="32.6" textLength="11.15" lengthAdjust="spacingAndGlyphs" fill="#111">)</text>
<text transform="translate(79.60,435.23) rotate(-90)" x="0" y="0" font-size="17.8" textLength="157.75" lengthAdjust="spacingAndGlyphs" fill="#111">Quantity Adsorbed</text>
<text transform="translate(79.50,270.79) rotate(-90)" x="0" y="0" font-size="33" textLength="12.84" lengthAdjust="spacingAndGlyphs" fill="#111">(</text>
<text transform="translate(79.60,258.30) rotate(-90)" x="0" y="0" font-size="17.6" textLength="22.50" lengthAdjust="spacingAndGlyphs" fill="#111">cm</text>
<text transform="translate(67.20,233.99) rotate(-90)" x="0" y="0" font-size="17" textLength="9.22" lengthAdjust="spacingAndGlyphs" fill="#111">3</text>
<text transform="translate(79.60,223.22) rotate(-90)" x="0" y="0" font-size="18" textLength="53.55" lengthAdjust="spacingAndGlyphs" fill="#111">/g STP</text>
<text transform="translate(79.50,168.95) rotate(-90)" x="0" y="0" font-size="33" textLength="11.93" lengthAdjust="spacingAndGlyphs" fill="#111">)</text>
<rect x="143.2" y="648.6" width="581.3" height="426.9" fill="none" stroke="#1a1a1a" stroke-width="2.2"/>
<line x1="138.89999999999998" y1="1075.51" x2="143.2" y2="1075.51" stroke="#1a1a1a" stroke-width="2.1"/>
<line x1="134.7" y1="1036.70" x2="143.2" y2="1036.70" stroke="#1a1a1a" stroke-width="2.1"/>
<text x="99.64" y="1042.00" font-size="16.8" fill="#111">0.00</text>
<line x1="138.89999999999998" y1="997.89" x2="143.2" y2="997.89" stroke="#1a1a1a" stroke-width="2.1"/>
<line x1="134.7" y1="959.08" x2="143.2" y2="959.08" stroke="#1a1a1a" stroke-width="2.1"/>
<text x="99.72" y="964.38" font-size="16.8" fill="#111">0.02</text>
<line x1="138.89999999999998" y1="920.27" x2="143.2" y2="920.27" stroke="#1a1a1a" stroke-width="2.1"/>
<line x1="134.7" y1="881.46" x2="143.2" y2="881.46" stroke="#1a1a1a" stroke-width="2.1"/>
<text x="99.31" y="886.76" font-size="16.8" fill="#111">0.04</text>
<line x1="138.89999999999998" y1="842.65" x2="143.2" y2="842.65" stroke="#1a1a1a" stroke-width="2.1"/>
<line x1="134.7" y1="803.84" x2="143.2" y2="803.84" stroke="#1a1a1a" stroke-width="2.1"/>
<text x="99.49" y="809.14" font-size="16.8" fill="#111">0.06</text>
<line x1="138.89999999999998" y1="765.03" x2="143.2" y2="765.03" stroke="#1a1a1a" stroke-width="2.1"/>
<line x1="134.7" y1="726.22" x2="143.2" y2="726.22" stroke="#1a1a1a" stroke-width="2.1"/>
<text x="99.56" y="731.52" font-size="16.8" fill="#111">0.08</text>
<line x1="138.89999999999998" y1="687.41" x2="143.2" y2="687.41" stroke="#1a1a1a" stroke-width="2.1"/>
<line x1="134.7" y1="648.60" x2="143.2" y2="648.60" stroke="#1a1a1a" stroke-width="2.1"/>
<text x="99.64" y="653.90" font-size="16.8" fill="#111">0.10</text>
<line x1="143.20" y1="1075.5" x2="143.20" y2="1083.5" stroke="#1a1a1a" stroke-width="2.1"/>
<text x="139.11" y="1102.80" font-size="15.5" fill="#111">1</text>
<line x1="433.85" y1="1075.5" x2="433.85" y2="1083.5" stroke="#1a1a1a" stroke-width="2.1"/>
<text x="425.77" y="1102.80" font-size="15.5" fill="#111">10</text>
<line x1="724.50" y1="1075.5" x2="724.50" y2="1083.5" stroke="#1a1a1a" stroke-width="2.1"/>
<text x="712.55" y="1102.80" font-size="15.5" fill="#111">100</text>
<polyline points="228.8,714.5 234.9,732.4 240.7,747.3 249.3,782.0 262.3,832.7 275.6,879.0 287.4,904.2 300.8,920.0 314.3,938.7 329.0,955.6 343.5,967.9 360.2,978.5 379.1,987.4 400.1,996.7 424.4,1006.8 448.2,1014.3 464.3,1020.8 486.4,1026.9 511.3,1031.6 540.3,1034.4 576.8,1036.6 633.2,1036.6 706.5,1036.6" fill="none" stroke="#000000" stroke-width="2.2" stroke-linejoin="round" stroke-linecap="round"/>
<rect x="224.1" y="709.8" width="9.4" height="9.4" fill="#000000"/>
<rect x="230.2" y="727.7" width="9.4" height="9.4" fill="#000000"/>
<rect x="236.0" y="742.6" width="9.4" height="9.4" fill="#000000"/>
<rect x="244.6" y="777.3" width="9.4" height="9.4" fill="#000000"/>
<rect x="257.6" y="828.0" width="9.4" height="9.4" fill="#000000"/>
<rect x="270.9" y="874.3" width="9.4" height="9.4" fill="#000000"/>
<rect x="282.7" y="899.5" width="9.4" height="9.4" fill="#000000"/>
<rect x="296.1" y="915.3" width="9.4" height="9.4" fill="#000000"/>
<rect x="309.6" y="934.0" width="9.4" height="9.4" fill="#000000"/>
<rect x="324.3" y="950.9" width="9.4" height="9.4" fill="#000000"/>
<rect x="338.8" y="963.2" width="9.4" height="9.4" fill="#000000"/>
<rect x="355.5" y="973.8" width="9.4" height="9.4" fill="#000000"/>
<rect x="374.4" y="982.7" width="9.4" height="9.4" fill="#000000"/>
<rect x="395.4" y="992.0" width="9.4" height="9.4" fill="#000000"/>
<rect x="419.7" y="1002.1" width="9.4" height="9.4" fill="#000000"/>
<rect x="443.5" y="1009.6" width="9.4" height="9.4" fill="#000000"/>
<rect x="459.6" y="1016.1" width="9.4" height="9.4" fill="#000000"/>
<rect x="481.7" y="1022.2" width="9.4" height="9.4" fill="#000000"/>
<rect x="506.6" y="1026.9" width="9.4" height="9.4" fill="#000000"/>
<rect x="535.6" y="1029.7" width="9.4" height="9.4" fill="#000000"/>
<rect x="572.1" y="1031.9" width="9.4" height="9.4" fill="#000000"/>
<rect x="628.5" y="1031.9" width="9.4" height="9.4" fill="#000000"/>
<rect x="701.8" y="1031.9" width="9.4" height="9.4" fill="#000000"/>
<polyline points="217.7,962.5 224.2,953.9 231.3,948.9 239.9,940.3 253.9,926.9 268.6,909.2 282.0,890.0 296.3,882.6 310.5,885.5 325.6,904.9 341.3,934.9 358.6,960.4 377.0,975.5 397.5,982.0 422.9,988.9 447.5,997.1 462.6,1003.1 483.8,1013.3 508.5,1025.2 538.7,1032.9 575.3,1036.4 628.3,1036.6 696.0,1036.6" fill="none" stroke="#ff0000" stroke-width="2.2" stroke-linejoin="round" stroke-linecap="round"/>
<circle cx="217.7" cy="962.5" r="5.0" fill="#ff0000"/>
<circle cx="224.2" cy="953.9" r="5.0" fill="#ff0000"/>
<circle cx="231.3" cy="948.9" r="5.0" fill="#ff0000"/>
<circle cx="239.9" cy="940.3" r="5.0" fill="#ff0000"/>
<circle cx="253.9" cy="926.9" r="5.0" fill="#ff0000"/>
<circle cx="268.6" cy="909.2" r="5.0" fill="#ff0000"/>
<circle cx="282.0" cy="890.0" r="5.0" fill="#ff0000"/>
<circle cx="296.3" cy="882.6" r="5.0" fill="#ff0000"/>
<circle cx="310.5" cy="885.5" r="5.0" fill="#ff0000"/>
<circle cx="325.6" cy="904.9" r="5.0" fill="#ff0000"/>
<circle cx="341.3" cy="934.9" r="5.0" fill="#ff0000"/>
<circle cx="358.6" cy="960.4" r="5.0" fill="#ff0000"/>
<circle cx="377.0" cy="975.5" r="5.0" fill="#ff0000"/>
<circle cx="397.5" cy="982.0" r="5.0" fill="#ff0000"/>
<circle cx="422.9" cy="988.9" r="5.0" fill="#ff0000"/>
<circle cx="447.5" cy="997.1" r="5.0" fill="#ff0000"/>
<circle cx="462.6" cy="1003.1" r="5.0" fill="#ff0000"/>
<circle cx="483.8" cy="1013.3" r="5.0" fill="#ff0000"/>
<circle cx="508.5" cy="1025.2" r="5.0" fill="#ff0000"/>
<circle cx="538.7" cy="1032.9" r="5.0" fill="#ff0000"/>
<circle cx="575.3" cy="1036.4" r="5.0" fill="#ff0000"/>
<circle cx="628.3" cy="1036.6" r="5.0" fill="#ff0000"/>
<circle cx="696.0" cy="1036.6" r="5.0" fill="#ff0000"/>
<polyline points="214.7,1006.6 221.6,1013.1 231.9,1008.8 246.4,1004.5 260.8,1006.6 275.5,1009.4 289.5,1009.9 304.2,1012.0 318.7,1014.2 335.9,1015.3 353.2,1014.5 372.7,1013.2 394.2,1008.9 419.0,999.2 443.8,986.2 460.0,969.0 483.8,987.3 511.5,999.5 543.3,1027.8 578.3,1036.2 601.2,1036.2 681.9,1036.2" fill="none" stroke="#0000ff" stroke-width="2.2" stroke-linejoin="round" stroke-linecap="round"/>
<path d="M214.7,1000.1L220.7,1010.8L208.7,1010.8Z" fill="#0000ff"/>
<path d="M221.6,1006.6L227.6,1017.3L215.6,1017.3Z" fill="#0000ff"/>
<path d="M231.9,1002.3L237.9,1013.0L225.9,1013.0Z" fill="#0000ff"/>
<path d="M246.4,998.0L252.4,1008.7L240.4,1008.7Z" fill="#0000ff"/>
<path d="M260.8,1000.1L266.8,1010.8L254.8,1010.8Z" fill="#0000ff"/>
<path d="M275.5,1002.9L281.5,1013.6L269.5,1013.6Z" fill="#0000ff"/>
<path d="M289.5,1003.4L295.5,1014.1L283.5,1014.1Z" fill="#0000ff"/>
<path d="M304.2,1005.5L310.2,1016.2L298.2,1016.2Z" fill="#0000ff"/>
<path d="M318.7,1007.7L324.7,1018.4L312.7,1018.4Z" fill="#0000ff"/>
<path d="M335.9,1008.8L341.9,1019.5L329.9,1019.5Z" fill="#0000ff"/>
<path d="M353.2,1008.0L359.2,1018.7L347.2,1018.7Z" fill="#0000ff"/>
<path d="M372.7,1006.7L378.7,1017.4L366.7,1017.4Z" fill="#0000ff"/>
<path d="M394.2,1002.4L400.2,1013.1L388.2,1013.1Z" fill="#0000ff"/>
<path d="M419.0,992.7L425.0,1003.4L413.0,1003.4Z" fill="#0000ff"/>
<path d="M443.8,979.7L449.8,990.4L437.8,990.4Z" fill="#0000ff"/>
<path d="M460.0,962.5L466.0,973.2L454.0,973.2Z" fill="#0000ff"/>
<path d="M483.8,980.8L489.8,991.5L477.8,991.5Z" fill="#0000ff"/>
<path d="M511.5,993.0L517.5,1003.7L505.5,1003.7Z" fill="#0000ff"/>
<path d="M543.3,1021.3L549.3,1032.0L537.3,1032.0Z" fill="#0000ff"/>
<path d="M578.3,1029.7L584.3,1040.4L572.3,1040.4Z" fill="#0000ff"/>
<path d="M601.2,1029.7L607.2,1040.4L595.2,1040.4Z" fill="#0000ff"/>
<path d="M681.9,1029.7L687.9,1040.4L675.9,1040.4Z" fill="#0000ff"/>
<polyline points="225.5,1035.8 232.4,1038.0 239.9,1033.7 255.0,1030.4 269.0,1028.3 283.1,1029.4 297.1,1029.4 311.1,1027.2 325.1,1025.0 341.3,1021.8 357.6,1020.8 375.9,1017.6 396.4,1012.2 421.2,999.2 442.8,980.9 460.0,962.6 479.4,973.4 501.0,990.6 531.1,1019.8 579.4,1036.2 645.2,1036.4" fill="none" stroke="#00f000" stroke-width="2.2" stroke-linejoin="round" stroke-linecap="round"/>
<path d="M225.5,1029.5L230.8,1035.8L225.5,1042.0L220.2,1035.8Z" fill="#00f000"/>
<path d="M232.4,1031.8L237.7,1038.0L232.4,1044.2L227.2,1038.0Z" fill="#00f000"/>
<path d="M239.9,1027.5L245.2,1033.7L239.9,1040.0L234.7,1033.7Z" fill="#00f000"/>
<path d="M255.0,1024.2L260.2,1030.4L255.0,1036.7L249.8,1030.4Z" fill="#00f000"/>
<path d="M269.0,1022.0L274.2,1028.3L269.0,1034.5L263.8,1028.3Z" fill="#00f000"/>
<path d="M283.1,1023.2L288.4,1029.4L283.1,1035.7L277.9,1029.4Z" fill="#00f000"/>
<path d="M297.1,1023.2L302.4,1029.4L297.1,1035.7L291.9,1029.4Z" fill="#00f000"/>
<path d="M311.1,1021.0L316.4,1027.2L311.1,1033.5L305.9,1027.2Z" fill="#00f000"/>
<path d="M325.1,1018.8L330.4,1025.0L325.1,1031.2L319.9,1025.0Z" fill="#00f000"/>
<path d="M341.3,1015.5L346.6,1021.8L341.3,1028.0L336.1,1021.8Z" fill="#00f000"/>
<path d="M357.6,1014.5L362.9,1020.8L357.6,1027.0L352.4,1020.8Z" fill="#00f000"/>
<path d="M375.9,1011.4L381.1,1017.6L375.9,1023.9L370.6,1017.6Z" fill="#00f000"/>
<path d="M396.4,1006.0L401.6,1012.2L396.4,1018.5L391.1,1012.2Z" fill="#00f000"/>
<path d="M421.2,993.0L426.4,999.2L421.2,1005.5L415.9,999.2Z" fill="#00f000"/>
<path d="M442.8,974.6L448.1,980.9L442.8,987.1L437.6,980.9Z" fill="#00f000"/>
<path d="M460.0,956.4L465.2,962.6L460.0,968.9L454.8,962.6Z" fill="#00f000"/>
<path d="M479.4,967.1L484.6,973.4L479.4,979.6L474.1,973.4Z" fill="#00f000"/>
<path d="M501.0,984.4L506.2,990.6L501.0,996.9L495.8,990.6Z" fill="#00f000"/>
<path d="M531.1,1013.5L536.4,1019.8L531.1,1026.0L525.9,1019.8Z" fill="#00f000"/>
<path d="M579.4,1030.0L584.6,1036.2L579.4,1042.5L574.1,1036.2Z" fill="#00f000"/>
<path d="M645.2,1030.2L650.5,1036.4L645.2,1042.7L640.0,1036.4Z" fill="#00f000"/>
<polyline points="210.8,1024.0 217.3,1023.5 223.7,1022.9 233.4,1020.1 249.2,1020.1 263.0,1022.2 276.6,1024.0 291.7,1025.7 305.7,1027.2 320.8,1027.9 337.0,1028.7 353.6,1028.7 373.7,1029.0 395.3,1027.7 420.1,1026.2 443.8,1024.7 461.1,1021.9 481.6,1016.5 503.7,1009.5 534.2,1008.5 587.0,1035.0 695.9,1036.4 724.5,1036.5" fill="none" stroke="#800080" stroke-width="2.2" stroke-linejoin="round" stroke-linecap="round"/>
<polygon points="210.8,1018.5 212.3,1022.4 216.5,1022.6 213.3,1025.3 214.3,1029.4 210.8,1027.1 207.3,1029.4 208.3,1025.3 205.1,1022.6 209.3,1022.4" fill="#800080"/>
<polygon points="217.3,1018.0 218.8,1021.9 223.0,1022.1 219.8,1024.8 220.8,1028.9 217.3,1026.6 213.8,1028.9 214.8,1024.8 211.6,1022.1 215.8,1021.9" fill="#800080"/>
<polygon points="223.7,1017.4 225.2,1021.3 229.4,1021.5 226.2,1024.2 227.2,1028.3 223.7,1026.0 220.2,1028.3 221.2,1024.2 218.0,1021.5 222.2,1021.3" fill="#800080"/>
<polygon points="233.4,1014.6 234.9,1018.5 239.1,1018.7 235.9,1021.4 236.9,1025.5 233.4,1023.2 229.9,1025.5 230.9,1021.4 227.7,1018.7 231.9,1018.5" fill="#800080"/>
<polygon points="249.2,1014.6 250.7,1018.5 254.9,1018.7 251.7,1021.4 252.7,1025.5 249.2,1023.2 245.7,1025.5 246.7,1021.4 243.5,1018.7 247.7,1018.5" fill="#800080"/>
<polygon points="263.0,1016.7 264.5,1020.6 268.7,1020.8 265.5,1023.5 266.5,1027.6 263.0,1025.3 259.5,1027.6 260.5,1023.5 257.3,1020.8 261.5,1020.6" fill="#800080"/>
<polygon points="276.6,1018.5 278.1,1022.4 282.3,1022.6 279.1,1025.3 280.1,1029.4 276.6,1027.1 273.1,1029.4 274.1,1025.3 270.9,1022.6 275.1,1022.4" fill="#800080"/>
<polygon points="291.7,1020.2 293.2,1024.1 297.4,1024.3 294.2,1027.0 295.2,1031.1 291.7,1028.8 288.2,1031.1 289.2,1027.0 286.0,1024.3 290.2,1024.1" fill="#800080"/>
<polygon points="305.7,1021.7 307.2,1025.6 311.4,1025.8 308.2,1028.5 309.2,1032.6 305.7,1030.3 302.2,1032.6 303.2,1028.5 300.0,1025.8 304.2,1025.6" fill="#800080"/>
<polygon points="320.8,1022.4 322.3,1026.3 326.5,1026.5 323.3,1029.2 324.3,1033.3 320.8,1031.0 317.3,1033.3 318.3,1029.2 315.1,1026.5 319.3,1026.3" fill="#800080"/>
<polygon points="337.0,1023.2 338.5,1027.1 342.7,1027.3 339.5,1030.0 340.5,1034.1 337.0,1031.8 333.5,1034.1 334.5,1030.0 331.3,1027.3 335.5,1027.1" fill="#800080"/>
<polygon points="353.6,1023.2 355.1,1027.1 359.3,1027.3 356.1,1030.0 357.1,1034.1 353.6,1031.8 350.1,1034.1 351.1,1030.0 347.9,1027.3 352.1,1027.1" fill="#800080"/>
<polygon points="373.7,1023.5 375.2,1027.4 379.4,1027.6 376.2,1030.3 377.2,1034.4 373.7,1032.1 370.2,1034.4 371.2,1030.3 368.0,1027.6 372.2,1027.4" fill="#800080"/>
<polygon points="395.3,1022.2 396.8,1026.1 401.0,1026.3 397.8,1029.0 398.8,1033.1 395.3,1030.8 391.8,1033.1 392.8,1029.0 389.6,1026.3 393.8,1026.1" fill="#800080"/>
<polygon points="420.1,1020.7 421.6,1024.6 425.8,1024.8 422.6,1027.5 423.6,1031.6 420.1,1029.3 416.6,1031.6 417.6,1027.5 414.4,1024.8 418.6,1024.6" fill="#800080"/>
<polygon points="443.8,1019.2 445.3,1023.1 449.5,1023.3 446.3,1026.0 447.3,1030.1 443.8,1027.8 440.3,1030.1 441.3,1026.0 438.1,1023.3 442.3,1023.1" fill="#800080"/>
<polygon points="461.1,1016.4 462.6,1020.3 466.8,1020.5 463.6,1023.2 464.6,1027.3 461.1,1025.0 457.6,1027.3 458.6,1023.2 455.4,1020.5 459.6,1020.3" fill="#800080"/>
<polygon points="481.6,1011.0 483.1,1014.9 487.3,1015.1 484.1,1017.8 485.1,1021.9 481.6,1019.6 478.1,1021.9 479.1,1017.8 475.9,1015.1 480.1,1014.9" fill="#800080"/>
<polygon points="503.7,1004.0 505.2,1007.9 509.4,1008.1 506.2,1010.8 507.2,1014.9 503.7,1012.6 500.2,1014.9 501.2,1010.8 498.0,1008.1 502.2,1007.9" fill="#800080"/>
<polygon points="534.2,1003.0 535.7,1006.9 539.9,1007.1 536.7,1009.8 537.7,1013.9 534.2,1011.6 530.7,1013.9 531.7,1009.8 528.5,1007.1 532.7,1006.9" fill="#800080"/>
<polygon points="587.0,1029.5 588.5,1033.4 592.7,1033.6 589.5,1036.3 590.5,1040.4 587.0,1038.1 583.5,1040.4 584.5,1036.3 581.3,1033.6 585.5,1033.4" fill="#800080"/>
<polygon points="695.9,1030.9 697.4,1034.8 701.6,1035.0 698.4,1037.7 699.4,1041.8 695.9,1039.5 692.4,1041.8 693.4,1037.7 690.2,1035.0 694.4,1034.8" fill="#800080"/>
<line x1="526.2" y1="688.7" x2="574.7" y2="688.7" stroke="#000000" stroke-width="2.2"/>
<rect x="545.7" y="684.0" width="9.4" height="9.4" fill="#000000"/>
<text x="579.58" y="696.60" font-size="20.5" textLength="64.32" lengthAdjust="spacingAndGlyphs" fill="#111">ST-300</text>
<line x1="526.2" y1="718.5" x2="574.7" y2="718.5" stroke="#ff0000" stroke-width="2.2"/>
<circle cx="550.4" cy="718.5" r="5.2" fill="#ff0000"/>
<text x="579.58" y="726.40" font-size="20.5" textLength="64.32" lengthAdjust="spacingAndGlyphs" fill="#111">ST-400</text>
<line x1="526.2" y1="748.2" x2="574.7" y2="748.2" stroke="#0000ff" stroke-width="2.2"/>
<path d="M550.4,741.7L556.4,752.2L544.4,752.2Z" fill="#0000ff"/>
<text x="579.58" y="756.10" font-size="20.5" textLength="64.32" lengthAdjust="spacingAndGlyphs" fill="#111">ST-500</text>
<line x1="526.2" y1="777.8" x2="574.7" y2="777.8" stroke="#00f000" stroke-width="2.2"/>
<path d="M550.4,771.5L555.6,777.8L550.4,784.0L545.1,777.8Z" fill="#00f000"/>
<text x="579.58" y="785.70" font-size="20.5" textLength="64.32" lengthAdjust="spacingAndGlyphs" fill="#111">ST-600</text>
<line x1="526.2" y1="807.4" x2="574.7" y2="807.4" stroke="#800080" stroke-width="2.2"/>
<polygon points="550.4,801.9 551.9,805.8 556.1,806.0 552.9,808.7 553.9,812.8 550.4,810.5 546.9,812.8 547.9,808.7 544.7,806.0 548.9,805.8" fill="#800080"/>
<text x="579.58" y="815.30" font-size="20.5" textLength="64.32" lengthAdjust="spacingAndGlyphs" fill="#111">ST-700</text>
<text x="31.53" y="656.30" font-size="37.7" textLength="46.55" lengthAdjust="spacingAndGlyphs" fill="#111">(b)</text>
<text x="333.95" y="1129.30" font-size="20.2" textLength="170.44" lengthAdjust="spacingAndGlyphs" fill="#111">Pore diameter (nm)</text>
<text transform="translate(78.50,1015.86) rotate(-90)" x="0" y="0" font-size="20.3" textLength="184.92" lengthAdjust="spacingAndGlyphs" fill="#111">dV/dw Pore Volume</text>
<text transform="translate(78.60,825.29) rotate(-90)" x="0" y="0" font-size="29.8" textLength="12.06" lengthAdjust="spacingAndGlyphs" fill="#111">(</text>
<text transform="translate(78.50,814.07) rotate(-90)" x="0" y="0" font-size="18.5" textLength="25.21" lengthAdjust="spacingAndGlyphs" fill="#111">cm</text>
<text transform="translate(67.40,788.28) rotate(-90)" x="0" y="0" font-size="13.5" textLength="6.42" lengthAdjust="spacingAndGlyphs" fill="#111">3</text>
<text transform="translate(78.50,779.10) rotate(-90)" x="0" y="0" font-size="19.5" textLength="49.65" lengthAdjust="spacingAndGlyphs" fill="#111">/g.nm</text>
<text transform="translate(78.60,728.57) rotate(-90)" x="0" y="0" font-size="29.8" textLength="11.02" lengthAdjust="spacingAndGlyphs" fill="#111">)</text>
</g>
</svg>
</body></html>
